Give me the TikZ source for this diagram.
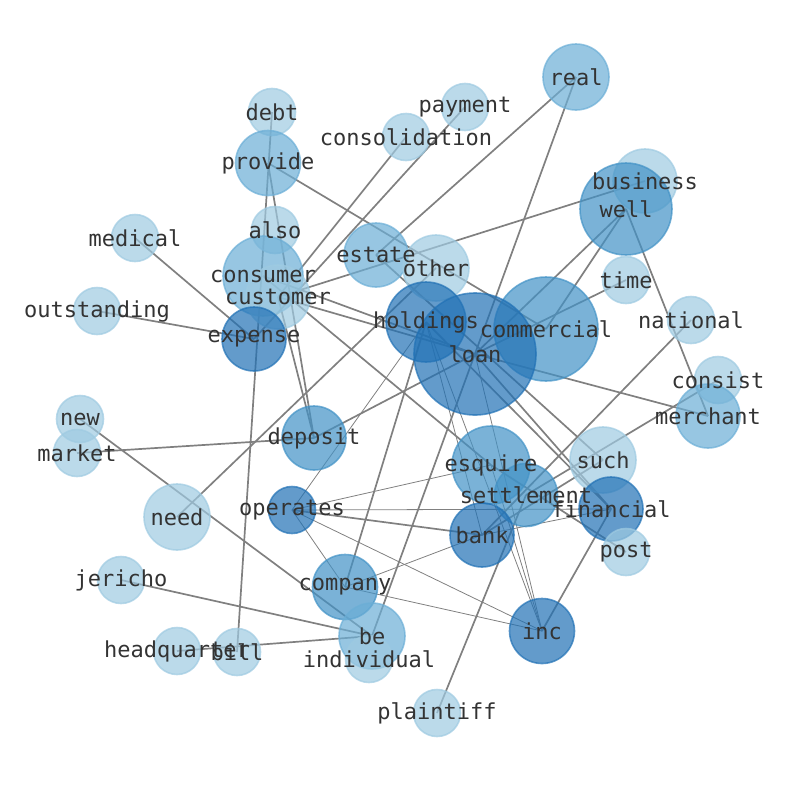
\documentclass[tikz,border=0pt]{standalone}
\usepackage{fontspec}
\newfontfamily\wordfont{DejaVu Sans Mono}
\usepackage{tikz}
\definecolor{bluea}{HTML}{9ECAE1}
\definecolor{blueb}{HTML}{6BAED6}
\definecolor{bluec}{HTML}{4292C6}
\definecolor{blued}{HTML}{2171B5}
\pgfdeclarelayer{edges}
\pgfdeclarelayer{words}
\pgfsetlayers{edges,main,words}

\begin{document}
\begin{tikzpicture}[x=1pt,y=-1pt,
  bub/.style={circle,fill=#1,draw=#1,fill opacity=.7,draw opacity=.7,line width=1.6pt,inner sep=0pt},
  word/.style={font=\wordfont\fontsize{22}{24}\selectfont,text=black!80,inner sep=0pt},
  link/.style={draw=black!50,line width=1.7pt},
  weak/.style={draw=black!50,line width=.8pt}]
\useasboundingbox (0,0) rectangle (794,790);
% bubbles: name/x/y/diameter/colour
\foreach \n/\x/\y/\d/\c in {
  real/576/77/66/blueb, payment/465/107/47/bluea, debt/272/112/47/bluea,
  consolidation/406/137/47/bluea, provide/268/163/65/blueb,
  business/645/181/64/bluea, well/626/209/92/bluec, also/275/230/47/bluea,
  medical/135/238/47/bluea, consumer/263/276/80/blueb, estate/376/255/64/blueb,
  other/436/268/66/bluea, time/626/280/47/bluea, customer/278/297/64/bluea,
  outstanding/97/311/47/bluea, holdings/426/322/80/blued,
  commercial/546/329/104/bluec, loan/475/354/122/blued, expense/254/339/64/blued,
  national/691/320/47/bluea, consist/718/380/47/bluea, merchant/708/416/64/blueb,
  new/80/419/47/bluea, deposit/314/438/64/bluec, market/77/453/47/bluea,
  esquire/491/465/78/bluec, such/603/460/66/bluea, settlement/526/495/63/bluec,
  financial/611/509/64/blued, need/177/517/66/bluea, operates/292/510/47/blued,
  bank/482/535/64/blued, post/626/552/47/bluea, company/345/587/65/bluec,
  jericho/121/580/47/bluea, inc/542/631/65/blued, be/372/636/66/blueb,
  headquarter/177/651/47/bluea, bill/237/652/47/bluea,
  individual/369/659/47/bluea, plaintiff/437/713/47/bluea}
{
  \node[bub=\c,minimum size=\d pt] (\n) at (\x,\y) {};
  \begin{pgfonlayer}{words}
    \node[word] (\n-t) at (\n.center) {\n};
  \end{pgfonlayer}
}
\begin{pgfonlayer}{edges}
\foreach \a/\b in {debt/bill, provide/deposit, provide/commercial,
  payment/expense, consolidation/customer, real/estate, real/be,
  customer/business, well/loan, well/commercial, well/merchant, time/loan,
  national/bank, consist/settlement, such/bank, financial/inc,
  holdings/financial, loan/financial, loan/merchant, medical/expense,
  outstanding/expense, market/deposit, new/be, need/other, jericho/be,
  headquarter/be, plaintiff/settlement, company/holdings, customer/deposit,
  consumer/loan, customer/loan, consumer/esquire, deposit/loan,
  operates/bank, estate/such, esquire/post}
  \draw[link] (\a.center) -- (\b.center);
\foreach \a/\b in {operates/holdings, operates/esquire, operates/financial,
  operates/inc, operates/company, company/bank, company/inc, holdings/inc,
  holdings/bank, loan/inc, esquire/inc, bank/financial}
  \draw[weak] (\a.center) -- (\b.center);
\end{pgfonlayer}
\end{tikzpicture}
\end{document}
